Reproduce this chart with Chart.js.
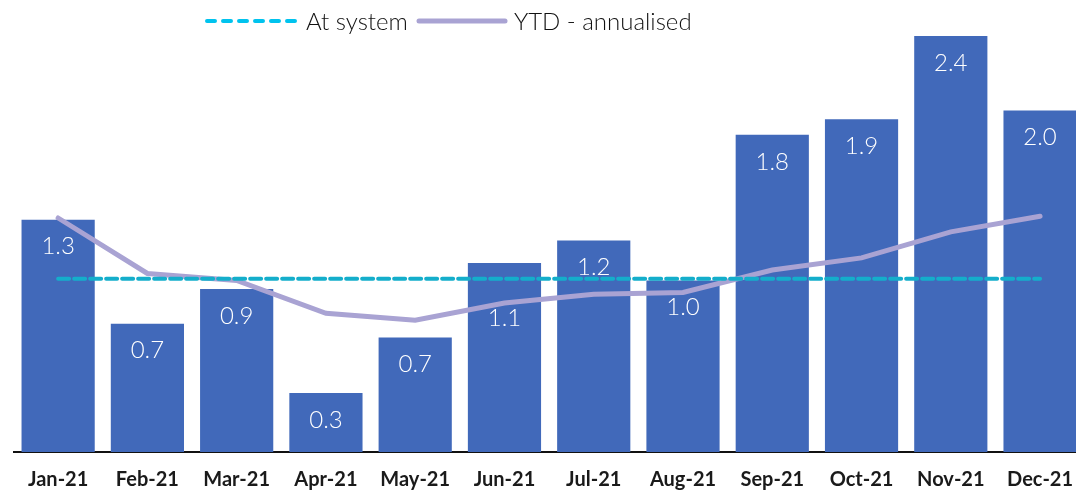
<!DOCTYPE html>
<html>
<head>
<meta charset="utf-8">
<script src="https://cdn.jsdelivr.net/npm/chart.js@4.4.1/dist/chart.umd.min.js"></script>
<style>
  html, body { margin: 0; padding: 0; background: #fff; overflow: hidden; }
  #wrap { position: relative; width: 1086px; height: 490px; }
  #legend { position: absolute; left: 204px; top: 6px; display: flex; align-items: center;
            font-family: Lato, "Noto Sans", sans-serif; font-weight: 300; font-size: 24px; color: #111; }
  #legend svg { display: block; }
  #legend span { margin: 0 8px 0 6px; }
</style>
</head>
<body>
<div id="wrap">
  <canvas id="chart" width="1086" height="490"></canvas>
  <div id="legend">
    <svg width="96" height="10"><line x1="3" y1="5" x2="93" y2="5" stroke="#00C3EE" stroke-width="4" stroke-linecap="round" stroke-dasharray="8 8"/></svg>
    <span>At system</span>
    <svg width="92" height="10"><line x1="3" y1="5" x2="89" y2="5" stroke="#A9A3D3" stroke-width="5" stroke-linecap="round"/></svg>
    <span>YTD - annualised</span>
  </div>
</div>
<script>
const months = ['Jan-21', 'Feb-21', 'Mar-21', 'Apr-21', 'May-21', 'Jun-21', 'Jul-21', 'Aug-21', 'Sep-21', 'Oct-21', 'Nov-21', 'Dec-21'];
const monthly = [1.34, 0.74, 0.94, 0.34, 0.66, 1.09, 1.22, 0.99, 1.83, 1.92, 2.40, 1.97];
const ytdAnnualised = [1.35, 1.03, 0.99, 0.80, 0.76, 0.86, 0.91, 0.92, 1.05, 1.12, 1.27, 1.36];
const atSystem = [1.0, 1.0, 1.0, 1.0, 1.0, 1.0, 1.0, 1.0, 1.0, 1.0, 1.0, 1.0];

// white value labels inside the top of each bar
const barLabels = {
  id: 'barLabels',
  afterDatasetsDraw(chart) {
    const ctx = chart.ctx;
    const bars = chart.getDatasetMeta(2).data;
    const lineY = chart.scales.y.getPixelForValue(atSystem[0]);
    ctx.save();
    ctx.fillStyle = '#fff';
    ctx.font = '300 24px Lato, "Noto Sans", sans-serif';
    ctx.textAlign = 'center';
    ctx.textBaseline = 'middle';
    bars.forEach((bar, i) => {
      let y = bar.y + 27;
      // keep the label clear of the dashed line
      if (y >= lineY && y < lineY + 20) y = lineY + 40;
      ctx.fillText(monthly[i].toFixed(1), bar.x, y);
    });
    ctx.restore();
  }
};

new Chart(document.getElementById('chart'), {
  data: {
    labels: months,
    datasets: [
      {
        type: 'line',
        label: 'At system',
        data: atSystem,
        borderColor: '#14AECB',
        borderWidth: 4,
        borderDash: [11, 5],
        borderCapStyle: 'round',
        pointRadius: 0,
        fill: false,
        order: 0
      },
      {
        type: 'line',
        label: 'YTD - annualised',
        data: ytdAnnualised,
        borderColor: '#A9A3D3',
        borderWidth: 5,
        borderCapStyle: 'round',
        pointRadius: 0,
        tension: 0,
        fill: false,
        order: 1
      },
      {
        type: 'bar',
        label: 'Monthly',
        data: monthly,
        backgroundColor: '#4169BA',
        barPercentage: 0.82,
        categoryPercentage: 1.0,
        order: 2
      }
    ]
  },
  options: {
    responsive: false,
    animation: false,
    layout: { padding: { top: 36, left: 13.5, right: 1.3, bottom: -10 } },
    plugins: {
      legend: { display: false },
      tooltip: { enabled: false }
    },
    scales: {
      x: {
        grid: { display: false },
        border: { display: true, color: '#111', width: 2 },
        ticks: {
          padding: 8,
          color: '#1a1a1a',
          font: { family: 'Lato, "Noto Sans", sans-serif', size: 20, weight: 'bold' }
        }
      },
      y: {
        display: false,
        min: 0,
        max: 2.4
      }
    }
  },
  plugins: [barLabels]
});
</script>
</body>
</html>
